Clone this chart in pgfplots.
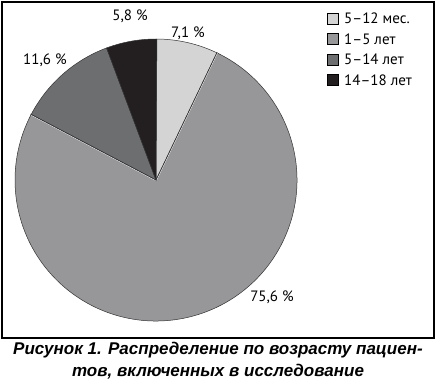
\documentclass[border=0pt]{standalone}
\usepackage{pgfplots}
\pgfplotsset{compat=1.18}
\usepackage{fontspec}
\setmainfont{PT Sans}
\newfontfamily\capfont{Liberation Sans}
\definecolor{c1}{HTML}{D4D4D5}
\definecolor{c2}{HTML}{97979A}
\definecolor{c3}{HTML}{6D6E70}
\definecolor{c4}{HTML}{231F20}
\begin{document}
\begin{tikzpicture}
\path[use as bounding box] (0,0) rectangle (436pt,-380pt);
\draw[line width=1.2pt] (2pt,-2pt) rectangle (434pt,-338pt);
\begin{axis}[at={(156pt,-180pt)},anchor=center,scale only axis,
  width=282pt,height=282pt,xmin=-1,xmax=1,ymin=-1,ymax=1,hide axis,clip=false]
% values in percent, clockwise from 90 degrees
\def\ra{141pt}
\pgfmathsetmacro{\aA}{90}
\pgfmathsetmacro{\aB}{\aA-7.1*3.6}
\pgfmathsetmacro{\aC}{\aB-75.6*3.6}
\pgfmathsetmacro{\aD}{\aC-11.6*3.6}
\pgfmathsetmacro{\aE}{\aD-5.8*3.6}
\fill[c2,draw=black!80,line width=0.5pt] (axis cs:0,0) -- ++(\aB:\ra) arc[start angle=\aB,end angle=\aC,radius=\ra] -- cycle;
\draw[white,line width=1.6pt] (axis cs:0,0) -- ++(\aB:\ra);
\draw[white,line width=1.6pt] (axis cs:0,0) -- ++(\aC:\ra);
\fill[c1,draw=black!80,line width=0.5pt] (axis cs:0,0) -- ++(\aA:\ra) arc[start angle=\aA,end angle=\aB,radius=\ra] -- cycle;
\fill[c3,draw=black!80,line width=0.5pt] (axis cs:0,0) -- ++(\aC:\ra) arc[start angle=\aC,end angle=\aD,radius=\ra] -- cycle;
\fill[c4,draw=black!80,line width=0.5pt] (axis cs:0,0) -- ++(\aD:\ra) arc[start angle=\aD,end angle=\aE,radius=\ra] -- cycle;
\draw[black!80,line width=0.5pt] (axis cs:0,0) ++(\aB:0.9pt) -- ++(\aB:\ra);
\draw[black!80,line width=0.5pt] (axis cs:0,0) ++(\aC:0.9pt) -- ++(\aC:\ra);
\end{axis}
\begin{scope}[every node/.style={font=\fontsize{15}{17}\selectfont,inner sep=0pt}]
\node at (188pt,-33pt) {7,1 \%};
\node at (130pt,-16pt) {5,8 \%};
\node at (45pt,-60pt) {11,6 \%};
\node at (272pt,-297pt) {75,6 \%};
\foreach \c/\t [count=\i] in {c1/5–12 мес.,c2/1–5 лет,c3/5–14 лет,c4/14–18 лет}{
  \fill[\c,draw=black,line width=0.5pt] (327pt,{-13pt-(\i-1)*20.5pt}) rectangle ++(11pt,-11pt);
  \node[anchor=west] at (344pt,{-18.5pt-(\i-1)*20.5pt}) {\t};
}
\end{scope}
\node[font=\capfont\bfseries\itshape\fontsize{17}{22}\selectfont,align=center,inner sep=0pt] at (218pt,-361pt)
 {Рисунок 1. Распределение по возрасту пациен-\\тов, включенных в исследование};
\end{tikzpicture}
\end{document}
